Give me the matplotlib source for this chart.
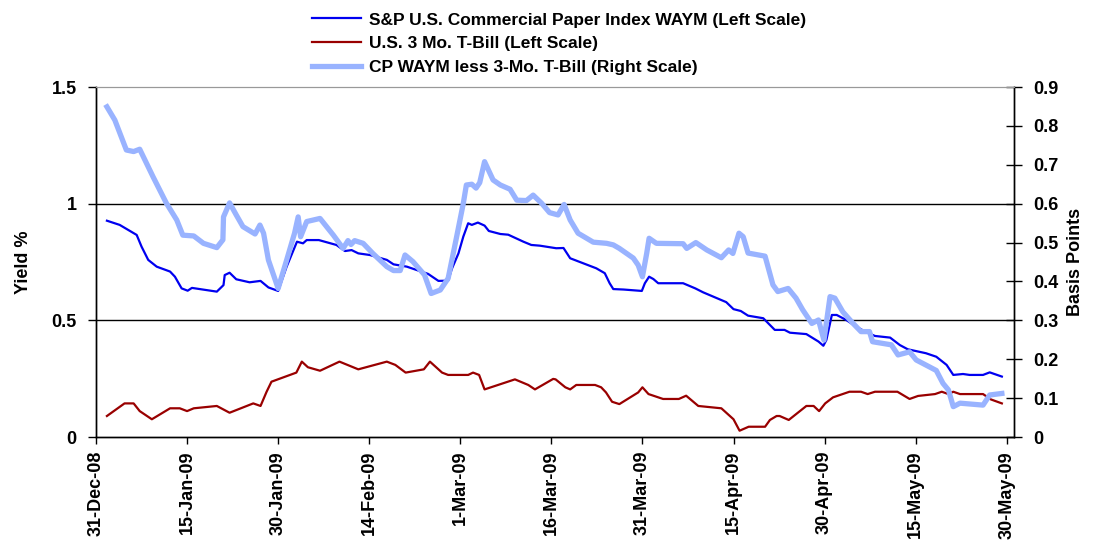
import datetime as dt
import matplotlib
matplotlib.use("Agg")
import matplotlib.pyplot as plt
import matplotlib.dates as mdates
import numpy as np

plt.rcParams['font.family'] = ['Liberation Sans', 'DejaVu Sans']
plt.rcParams['font.weight'] = 'bold'

# days after 31-Dec-2008
start = dt.date(2008, 12, 31)

cp_days = [1.8, 3.9, 6.7, 7.5, 8.6, 10.0, 12.2, 13.0, 14.1, 15.1,
           15.8, 19.9, 21.0, 21.2, 22.0, 23.1, 25.3, 27.1, 28.4, 30.0,
           31.4, 33.1, 34.1, 34.7, 36.7, 39.6, 41.0, 42.1, 43.2, 45.1,
           47.9, 49.0, 51.2, 54.7, 56.4, 58.0, 58.6, 59.7, 60.5, 61.3,
           61.9, 62.9, 64.0, 64.7, 66.6, 67.9, 70.4, 71.7, 73.1, 75.8,
           77.0, 78.1, 80.3, 82.4, 83.8, 84.6, 85.2, 86.9, 89.9, 90.4,
           91.1, 91.8, 92.6, 96.7, 98.7, 100.0, 103.8, 105.0, 106.2, 107.4,
           109.9, 111.8, 113.4, 114.3, 117.0, 119.0, 119.8, 120.3, 121.2, 122.0,
           123.6, 125.2, 126.9, 128.3, 130.8, 132.4, 133.7, 136.7, 138.4, 140.1,
           141.2, 142.8, 143.9, 146.1, 147.2, 149.2]
cp_yield = [0.927, 0.909, 0.866, 0.816, 0.759, 0.730, 0.709, 0.687, 0.637, 0.627,
            0.639, 0.623, 0.651, 0.694, 0.704, 0.676, 0.663, 0.669, 0.641, 0.626,
            0.730, 0.837, 0.830, 0.844, 0.844, 0.823, 0.797, 0.801, 0.787, 0.780,
            0.759, 0.740, 0.730, 0.699, 0.669, 0.670, 0.720, 0.787, 0.859, 0.916,
            0.909, 0.919, 0.906, 0.883, 0.870, 0.867, 0.837, 0.823, 0.820, 0.809,
            0.810, 0.766, 0.744, 0.723, 0.702, 0.659, 0.634, 0.632, 0.626, 0.659,
            0.687, 0.677, 0.659, 0.659, 0.637, 0.620, 0.578, 0.548, 0.540, 0.520,
            0.509, 0.459, 0.459, 0.447, 0.441, 0.409, 0.391, 0.416, 0.523, 0.523,
            0.501, 0.473, 0.449, 0.433, 0.426, 0.394, 0.376, 0.359, 0.344, 0.309,
            0.266, 0.270, 0.266, 0.266, 0.277, 0.259]

tb_days = [1.8, 4.7, 6.2, 7.2, 9.2, 12.2, 13.8, 15.0, 16.1, 19.9,
           22.0, 25.9, 27.1, 28.1, 28.9, 33.0, 33.9, 34.9, 36.9, 40.1,
           43.2, 47.9, 49.3, 51.0, 54.0, 55.0, 57.0, 58.0, 61.3, 62.1,
           63.1, 64.0, 69.0, 71.2, 72.3, 75.3, 75.7, 77.3, 78.1, 79.1,
           82.2, 83.2, 84.0, 85.0, 86.2, 89.3, 90.0, 91.0, 93.4, 96.0,
           97.2, 99.2, 103.0, 105.0, 106.0, 107.5, 110.2, 111.0, 112.1, 112.6,
           114.1, 117.0, 118.2, 119.1, 120.1, 121.4, 124.1, 126.0, 127.1, 128.3,
           132.0, 134.0, 135.4, 138.2, 139.3, 140.4, 141.2, 142.3, 146.1, 147.4,
           149.2]
tb_yield = [0.090, 0.144, 0.144, 0.111, 0.076, 0.123, 0.123, 0.111, 0.123, 0.133,
            0.104, 0.144, 0.133, 0.194, 0.237, 0.276, 0.323, 0.299, 0.284, 0.323,
            0.290, 0.323, 0.309, 0.276, 0.290, 0.323, 0.276, 0.266, 0.266, 0.276,
            0.266, 0.204, 0.247, 0.223, 0.204, 0.249, 0.247, 0.213, 0.204, 0.223,
            0.223, 0.213, 0.191, 0.151, 0.141, 0.191, 0.213, 0.184, 0.163, 0.163,
            0.177, 0.133, 0.123, 0.076, 0.027, 0.044, 0.044, 0.073, 0.090, 0.090,
            0.073, 0.133, 0.133, 0.111, 0.144, 0.170, 0.194, 0.194, 0.184, 0.194,
            0.194, 0.163, 0.176, 0.184, 0.194, 0.184, 0.194, 0.184, 0.184, 0.161,
            0.144]

spread_days = [1.8, 3.1, 5.0, 6.2, 7.2, 9.4, 11.6, 13.3, 14.3, 16.1,
               17.7, 19.9, 20.9, 21.0, 22.0, 23.1, 24.2, 26.2, 27.0, 27.6,
               28.4, 30.0, 31.4, 32.7, 33.3, 33.7, 34.7, 36.9, 39.1, 40.7,
               41.5, 42.0, 42.6, 44.0, 45.6, 47.9, 49.0, 50.1, 50.9, 52.2,
               54.1, 55.2, 56.7, 58.0, 59.4, 60.5, 61.0, 61.9, 62.6, 63.2,
               64.0, 65.4, 66.6, 68.2, 69.3, 70.9, 72.0, 73.4, 74.7, 76.1,
               77.1, 78.1, 79.4, 81.9, 84.1, 85.2, 86.2, 88.5, 89.3, 90.0,
               90.7, 91.1, 92.3, 96.7, 97.3, 98.8, 100.6, 103.0, 104.2, 104.9,
               105.9, 106.6, 107.4, 110.2, 111.5, 112.3, 114.0, 115.3, 116.4, 117.9,
               119.0, 119.9, 120.9, 121.7, 123.0, 124.7, 126.0, 127.4, 127.9, 131.0,
               132.1, 134.0, 135.1, 136.7, 138.4, 139.5, 140.4, 141.2, 142.3, 146.1,
               147.2, 149.2]
spread = [0.849, 0.815, 0.738, 0.734, 0.740, 0.669, 0.601, 0.558, 0.519, 0.517,
          0.498, 0.487, 0.507, 0.566, 0.602, 0.571, 0.541, 0.522, 0.545, 0.524,
          0.455, 0.382, 0.455, 0.524, 0.566, 0.515, 0.554, 0.562, 0.519, 0.485,
          0.505, 0.495, 0.505, 0.498, 0.472, 0.438, 0.428, 0.428, 0.468, 0.451,
          0.417, 0.369, 0.378, 0.408, 0.515, 0.601, 0.648, 0.650, 0.640, 0.654,
          0.708, 0.661, 0.648, 0.637, 0.609, 0.608, 0.622, 0.601, 0.577, 0.571,
          0.598, 0.558, 0.524, 0.501, 0.498, 0.494, 0.485, 0.460, 0.442, 0.412,
          0.472, 0.511, 0.498, 0.497, 0.485, 0.500, 0.481, 0.461, 0.481, 0.472,
          0.524, 0.515, 0.473, 0.465, 0.391, 0.374, 0.382, 0.357, 0.327, 0.292,
          0.301, 0.249, 0.361, 0.357, 0.322, 0.292, 0.271, 0.271, 0.245, 0.237,
          0.211, 0.219, 0.198, 0.185, 0.171, 0.138, 0.121, 0.078, 0.087, 0.082,
          0.108, 0.112]

labels = ['S&P U.S. Commercial Paper Index WAYM (Left Scale)',
          'U.S. 3 Mo. T-Bill (Left Scale)',
          'CP WAYM less 3-Mo. T-Bill (Right Scale)']

base = mdates.date2num(start)
to_x = lambda d: base + np.array(d)

fig = plt.figure(figsize=(10.98, 5.46), dpi=100)
ax = fig.add_axes([96/1098, 1 - 437/546, 918/1098, 350/546])
ax2 = ax.twinx()

l1, = ax.plot(to_x(cp_days), cp_yield, color='#0000F0', lw=1.6)
l2, = ax.plot(to_x(tb_days), tb_yield, color='#990000', lw=1.6)
l3, = ax2.plot(to_x(spread_days), spread, color='#99B3FF', lw=3.8)

ax.set_ylim(0, 1.5)
ax.set_yticks([0, 0.5, 1, 1.5])
ax.set_yticklabels(['0', '0.5', '1', '1.5'])
ax2.set_ylim(0, 0.9)
ax2.set_yticks(np.arange(0, 0.91, 0.1))
ax2.set_yticklabels(['0'] + ['%.1f' % v for v in np.arange(0.1, 0.91, 0.1)])

ax.set_xlim(base, base + 151.2)
ticks = [base + 15 * i for i in range(11)]
ax.set_xticks(ticks)
ax.set_xticklabels([mdates.num2date(t).strftime('%d-%b-%y').lstrip('0') for t in ticks],
                   rotation=90)

for y in [0.5, 1.0]:
    ax.axhline(y, color='black', lw=1.0, zorder=0)

for a in (ax, ax2):
    for s in ['left', 'right', 'bottom']:
        a.spines[s].set_color('black')
        a.spines[s].set_linewidth(1.0)
    a.spines['top'].set_color('#999999')
ax.tick_params(axis='both', labelsize=13, direction='out', length=6, width=1)
ax.tick_params(axis='y', pad=8)
ax.tick_params(axis='x', pad=5, length=5)
ax2.tick_params(axis='y', labelsize=13, direction='inout', length=12, width=1, pad=8)

fig.text(23/1098, 1 - 262/546, 'Yield %', rotation=90, ha='center', va='center',
         fontsize=13, fontweight='bold')
fig.text(1075/1098, 1 - 262/546, 'Basis Points', rotation=90, ha='center', va='center',
         fontsize=13, fontweight='bold')

fig.legend([l1, l2, l3], labels, loc='upper left', bbox_to_anchor=(305/1098, 0.99),
           frameon=False, fontsize=12.5, handlelength=2.8, handletextpad=0.5,
           labelspacing=0.5, borderaxespad=0)

fig.savefig('out.png', dpi=100)
